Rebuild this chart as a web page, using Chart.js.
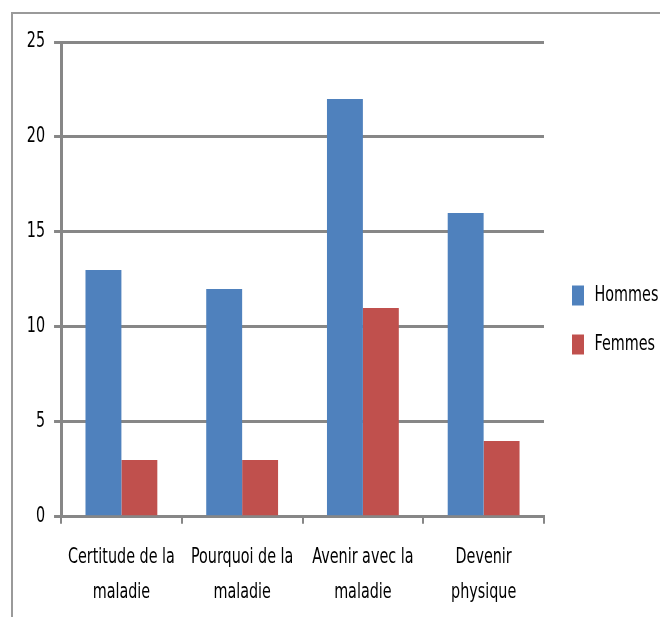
<!DOCTYPE html>
<html><head><meta charset="utf-8">
<script src="https://cdn.jsdelivr.net/npm/chart.js@4"></script>
<style>
html,body{margin:0;padding:0;background:#fff;}
#wrap{position:absolute;left:0;top:0;width:660px;height:617px;}
#frame{position:absolute;left:11px;top:12px;width:660px;height:620px;border-left:2px solid #9a9a9a;border-top:2px solid #9a9a9a;}
</style></head>
<body>
<div id="frame"></div>
<div id="wrap"><canvas id="c" width="660" height="617"></canvas></div>
<script>
const categories = [["Certitude de la","maladie"],["Pourquoi de la","maladie"],["Avenir avec la","maladie"],["Devenir","physique"]];
const hommes = [13,12,22,16];
const femmes = [3,3,11,4];
const seriesNames = ["Hommes","Femmes"];
const FONT = "'DejaVu Sans Condensed','DejaVu Sans',sans-serif";
const GRAY = '#878787';
const SX = 0.76; // narrow, tall glyphs like the original

const canvas = document.getElementById('c');
const ctx = canvas.getContext('2d');
const origFill = CanvasRenderingContext2D.prototype.fillText;
ctx.fillText = function(text, x, y, maxWidth){
  this.save();
  this.translate(x, y);
  this.scale(SX, 1);
  if (maxWidth !== undefined) origFill.call(this, text, 0, 0, maxWidth / SX);
  else origFill.call(this, text, 0, 0);
  this.restore();
};

new Chart(ctx, {
  type:'bar',
  data:{labels:categories, datasets:[
    {label:seriesNames[0], data:hommes, backgroundColor:'#4F81BD', barPercentage:1, categoryPercentage:0.595},
    {label:seriesNames[1], data:femmes, backgroundColor:'#C0504D', barPercentage:1, categoryPercentage:0.595}
  ]},
  options:{
    responsive:false, animation:false,
    layout:{padding:{left:12,top:14,right:0,bottom:-9}},
    plugins:{
      tooltip:{enabled:false},
      title:{display:true, text:' ', font:{size:20, lineHeight:1.4}, padding:0},
      legend:{position:'right', align:'center', maxWidth:116,
        labels:{font:{family:FONT,size:21}, color:'#000', boxWidth:12, boxHeight:20, padding:28}}
    },
    scales:{
      x:{grid:{drawOnChartArea:false, color:GRAY, lineWidth:2, tickLength:7, offset:true},
         border:{color:GRAY, width:3},
         ticks:{font:{family:FONT,size:21, lineHeight:1.67}, color:'#000', padding:16, maxRotation:0, autoSkip:false}},
      y:{min:0,max:25, grid:{color:GRAY, lineWidth:3, tickLength:7},
         border:{color:GRAY, width:3},
         ticks:{stepSize:5, font:{family:FONT,size:21}, color:'#000', padding:9}}
    }
  }
});
</script>
</body></html>
